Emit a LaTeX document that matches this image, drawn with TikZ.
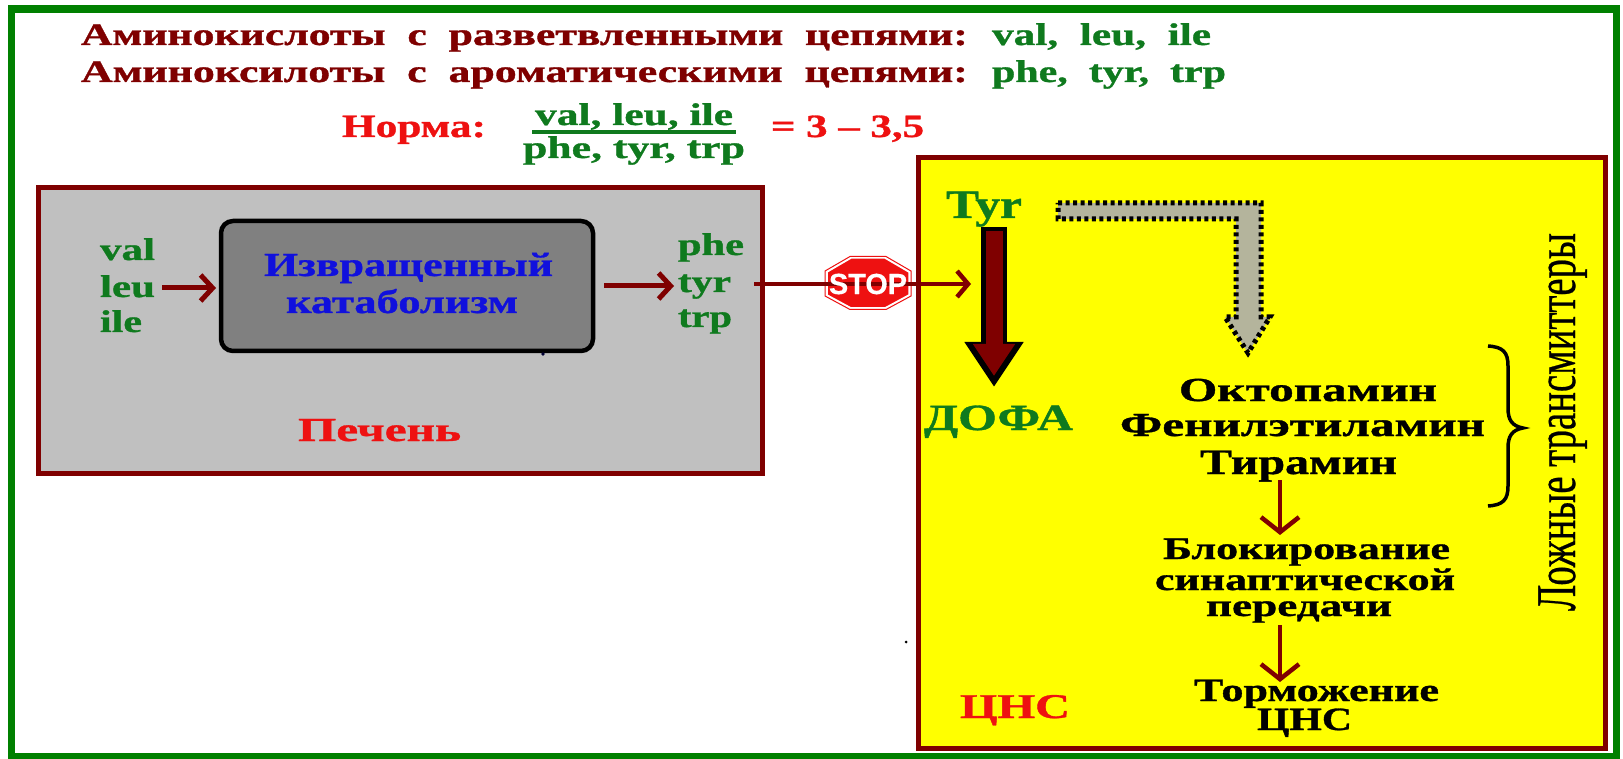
\documentclass[tikz,border=0pt]{standalone}
\usepackage{fontspec}
\usepackage{graphicx}
\setmainfont{Liberation Serif}[BoldFeatures={FakeBold=0.9}]
\setsansfont{Liberation Sans}[BoldFeatures={FakeBold=0.5}]
\newfontfamily\lozhfont[FakeBold=0.6]{Liberation Serif}
\usetikzlibrary{arrows.meta}
\definecolor{dred}{HTML}{7F0000}
\definecolor{dgreen}{HTML}{0F7A1E}
\definecolor{bgreen}{HTML}{008000}
\definecolor{lred}{HTML}{EE1111}
\definecolor{lblue}{HTML}{1010DD}
\definecolor{lgray}{HTML}{C0C0C0}
\definecolor{mgray}{HTML}{808080}
\definecolor{dotgray}{HTML}{B4B49C}
\definecolor{pureyellow}{RGB}{255,255,0}
\tikzset{
  txt/.style={anchor=base,inner sep=0pt,outer sep=0pt},
  panel/.style={draw=dred,line width=5pt},
  conn/.style={draw=dred,line width=5pt,-{Straight Barb[length=12pt,width=26pt,line width=5pt]}},
  connthin/.style={draw=dred,line width=4pt,-{Straight Barb[length=11pt,width=26pt,line width=4.5pt]}},
  conn2/.style={draw=dred,line width=4pt,-{Straight Barb[length=15pt,width=38pt,line width=4.5pt]}}
}
\newcommand\ft[2]{\setbox0\hbox{#2}\pgfmathparse{#1/\the\wd0}\scalebox{\pgfmathresult}[1.12]{\box0}}
% size, colour, centre x, baseline y, width, name, text
\newcommand\T[7]{\node[txt,text=#2,font=\fontsize{#1}{#1}\selectfont\bfseries] (#6) at (#3,#4) {\ft{#5}{#7}};}
\begin{document}
\begin{tikzpicture}[x=1pt,y=-1pt]
\useasboundingbox (0,0) rectangle (1623,759);
\fill[white] (0,0) rectangle (1623,759);
\draw[bgreen,line width=7.5pt] (11.5,9) rectangle (1616.5,757);
% panels
\node[panel,fill=lgray,minimum width=724pt,minimum height=286pt,inner sep=0pt] (liver) at (400.5,330.5) {};
\node[panel,fill=pureyellow,minimum width=686.5pt,minimum height=590.5pt,inner sep=0pt] (cns) at (1261.75,452.75) {};
\node[draw=black,line width=4.5pt,fill=mgray,rounded corners=12pt,minimum width=372pt,minimum height=130pt,inner sep=0pt] (cat) at (407,286) {};
% header
\T{28}{dred}{524.5}{45}{887}{h1}{Аминокислоты~~с~~разветвленными~~цепями:}
\T{28}{dgreen}{1101.5}{45}{219}{h1b}{val,~~leu,~~ile}
\T{28}{dred}{524.5}{82}{887}{h2}{Аминоксилоты~~с~~ароматическими~~цепями:}
\T{28}{dgreen}{1109}{82}{234}{h2b}{phe,~~tyr,~~trp}
\T{29}{lred}{414}{137}{144}{norm}{Норма:}
\T{28}{dgreen}{634}{125}{198}{fr1}{val, leu, ile}
\node[inner sep=0pt,minimum width=204pt,minimum height=3.5pt,fill=dgreen] (frbar) at (634,132) {};
\T{28}{dgreen}{634}{158}{222}{fr2}{phe, tyr, trp}
\T{29}{lred}{847.5}{137}{153}{ratio}{= 3 – 3,5}
% liver texts
\T{28}{dgreen}{127.5}{260}{55}{val}{val}
\T{28}{dgreen}{127.5}{297}{55}{leu}{leu}
\T{28}{dgreen}{121}{332}{42}{ile}{ile}
\T{28}{dgreen}{711}{255}{66}{phe}{phe}
\T{28}{dgreen}{704.5}{292}{53}{tyr}{tyr}
\T{28}{dgreen}{705}{327}{54}{trp}{trp}
\T{30}{lblue}{408.5}{276}{289}{c1}{Извращенный}
\T{30}{lblue}{402}{313}{232}{c2}{катаболизм}
\T{30}{lred}{379.5}{441}{163}{pech}{Печень}
\fill[black!80!blue] (543,354) circle (1.8pt);
% arrows in liver
\coordinate (a1s) at (162,288);
\coordinate (a1e) at (216,288);
\draw[conn] (a1s) -- (a1e);
\coordinate (a2s) at (604,286);
\coordinate (a2e) at (674,286);
\draw[conn] (a2s) -- (a2e);
% stop and link
\fill[lred,draw=white,line width=1.5pt] (827,272) -- (851,258) -- (885,258) -- (909,272) -- (909,295) -- (885,308) -- (851,308) -- (827,295) -- cycle;
\draw[lred,line width=1pt] (825,271) -- (850,256.5) -- (886,256.5) -- (911,271) -- (911,296) -- (886,309.5) -- (850,309.5) -- (825,296) -- cycle;
\coordinate (a3s) at (754,284);
\coordinate (a3e) at (971,284);
\draw[connthin] (a3s) -- (a3e);
\node[inner sep=0pt,text=white,font=\fontsize{26}{26}\selectfont\sffamily\bfseries] (stop) at (868,284) {\ft{78}{STOP}};
% CNS texts
\T{36}{dgreen}{984}{218}{76}{tyrcns}{Tyr}
\T{33}{dgreen}{998.5}{430}{149}{dofa}{ДОФА}
\T{30}{black}{1308}{401}{258}{o1}{Октопамин}
\T{30}{black}{1302.5}{436}{365}{o2}{Фенилэтиламин}
\T{32}{black}{1298.5}{474}{197}{o3}{Тирамин}
\T{28}{black}{1306.5}{559}{287}{b1}{Блокирование}
\T{28}{black}{1305}{590}{300}{b2}{синаптической}
\T{28}{black}{1299}{616}{186}{b3}{передачи}
\T{29}{black}{1316.5}{701}{245}{t1}{Торможение}
\T{29}{black}{1304.5}{730}{95}{t2}{ЦНС}
\T{31}{lred}{1015}{718}{110}{cnsl}{ЦНС}
\node[txt,rotate=90,font=\fontsize{50}{50}\selectfont\lozhfont] (lozh) at (1575,422) {\ft{378}{Ложные трансмиттеры}};
\fill[black] (906,642) circle (1.5pt);
% thick arrow Tyr to DOPA
\coordinate (ts) at (994,227);
\coordinate (te) at (994,387);
\coordinate (tis) at (994,231);
\coordinate (tie) at (994,376);
\draw[black,line width=26pt,-{Triangle[width=56pt,length=45pt]}] (ts) -- (te);
\draw[dred,line width=17pt,-{Triangle[width=40pt,length=32pt]}] (tis) -- (tie);
% dotted arrow
\draw[fill=dotgray,draw=black,line width=5pt,dash pattern=on 4pt off 3.5pt] (1058,203) -- (1261,203) -- (1261,317) -- (1270,317) -- (1248,353) -- (1225,317) -- (1236,317) -- (1236,219) -- (1058,219) -- cycle;
% brace
\draw[black,line width=3.5pt] (1488,346) .. controls (1503,347) and (1508,352) .. (1508,366) -- (1508,408) .. controls (1508,420) and (1512,426) .. (1523,428) .. controls (1512,430) and (1508,436) .. (1508,448) -- (1508,486) .. controls (1508,500) and (1503,505) .. (1488,506);
% CNS arrows
\coordinate (a4s) at (1280,480);
\coordinate (a4e) at (1280,535);
\draw[conn2] (a4s) -- (a4e);
\coordinate (a5s) at (1280,625);
\coordinate (a5e) at (1280,682);
\draw[conn2] (a5s) -- (a5e);
\end{tikzpicture}
\end{document}
